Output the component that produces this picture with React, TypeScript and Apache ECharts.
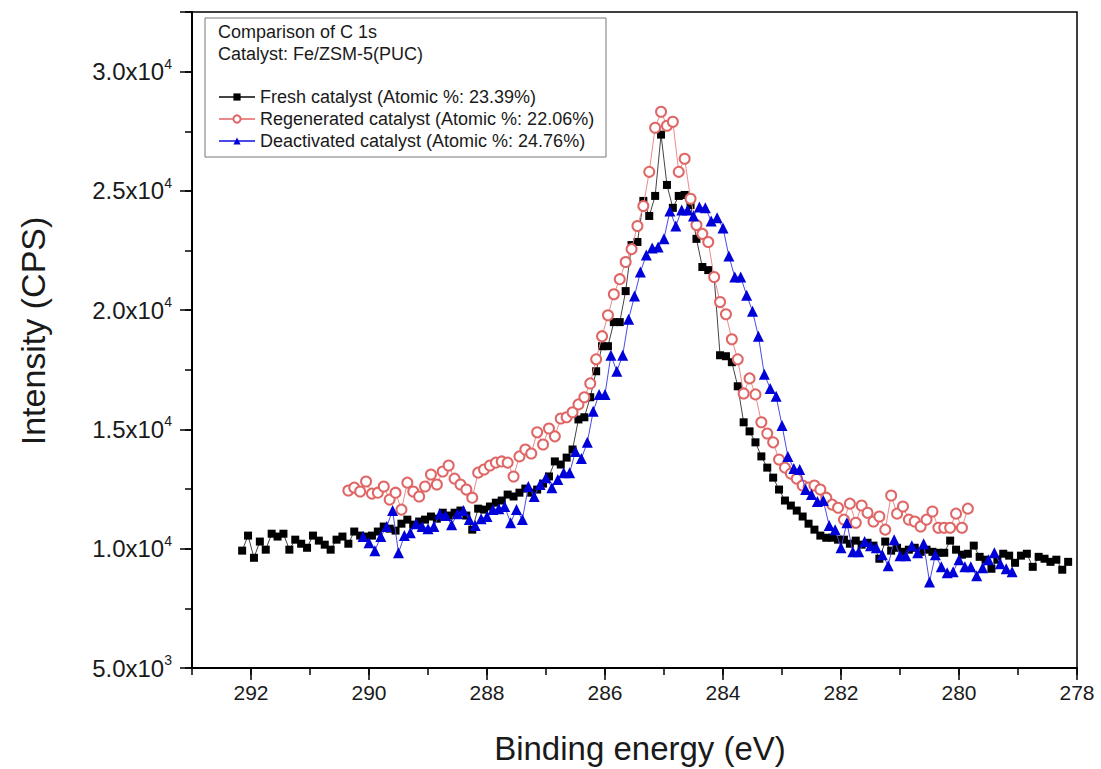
import React, { useEffect, useRef } from "react";
import * as echarts from "echarts";

// XPS C 1s spectra, binding energy sampled every 0.1 eV (high -> low)
const energyStep = 0.1;
const freshStart = 292.15;
const regenStart = 290.35;
const deactStart = 290.1;

const freshCps = [
  9920, 10550, 9620, 10300, 9960, 10630, 10510, 10630, 9960, 10380,
  10210, 10040, 10550, 10340, 10170, 9960, 10380, 10510, 10210, 10720,
  10550, 10510, 10550, 10720, 10930, 10840, 10760, 11050, 11220, 11010,
  11140, 11220, 11350, 11260, 11510, 11390, 11510, 11600, 11390, 10800,
  11680, 11640, 11770, 11930, 12020, 12270, 12190, 12350, 12520, 12350,
  12480, 12730, 13030, 13660, 13530, 13820, 14160, 15420, 15510, 16350,
  17440, 18490, 18490, 19500, 19500, 20800, 22730, 22860, 24580, 23950,
  24790, 27360, 25250, 24290, 24790, 24830, 24410, 22990, 21810, 21680,
  21390, 18110, 18070, 17820, 16810, 15300, 14920, 14460, 13870, 13400,
  12980, 12480, 12020, 11810, 11600, 11350, 11050, 10800, 10550, 10460,
  10460, 10380, 10380, 10210, 10340, 10170, 10250, 10130, 9580, 10300,
  9920, 10040, 9870, 9960, 10040, 9870, 9960, 9870, 9830, 9830,
  10340, 9960, 9750, 9790, 10130, 9660, 9540, 9160, 9540, 9790,
  9710, 9410, 9710, 9790, 9240, 9660, 9580, 9450, 9540, 9120,
  9450,
];

const regenCps = [
  12440, 12560, 12400, 12820, 12310, 12350, 12610, 12060, 12350, 11640,
  12770, 12400, 12190, 12610, 13110, 12690, 13240, 13490, 12940, 12690,
  12480, 12140, 13190, 13320, 13490, 13610, 13660, 13610, 13030, 13870,
  14160, 13990, 14880, 14370, 15040, 14710, 15460, 15510, 15720, 16050,
  16350, 16930, 17940, 18910, 19790, 20670, 21300, 22020, 22560, 23530,
  24370, 25800, 27650, 28320, 27730, 27900, 25800, 26350, 24670, 23570,
  23200, 22860, 21390, 20340, 19830, 18780, 17940, 16510, 17140, 16470,
  15300, 14830, 14460, 13740, 13400, 13150, 12940, 12650, 12560, 12650,
  12480, 12140, 11850, 11720, 11220, 11890, 11090, 11810, 11510, 11140,
  11350, 10800, 12230, 11470, 11770, 11220, 11140, 10930, 11220, 11560,
  10880, 10880, 10880, 11470, 10880, 11680,
];

const deactCps = [
  10510, 10250, 9920, 10510, 10930, 11600, 9830, 10550, 10670, 11050,
  10930, 10840, 10930, 11470, 11390, 11010, 11470, 11600, 11220, 10970,
  11260, 11350, 11640, 11680, 11770, 11090, 11640, 11220, 12610, 12190,
  12690, 12980, 12560, 12900, 13190, 13190, 14080, 13780, 14460, 15760,
  16470, 16470, 18110, 17440, 18110, 19620, 20590, 21600, 22310, 22610,
  22650, 22990, 24160, 23530, 24200, 24200, 23950, 24330, 24290, 23740,
  23870, 23450, 22270, 21390, 21390, 20630, 19960, 18910, 17310, 16720,
  16390, 15170, 13870, 13360, 13320, 12480, 12270, 11980, 12020, 10970,
  10800, 10040, 11090, 9870, 9870, 10300, 10130, 10040, 9750, 9290,
  10380, 9710, 9710, 10130, 9830, 10210, 8610, 9750, 9240, 8990,
  9030, 9540, 9240, 9240, 8870, 9200, 9540, 9830, 9370, 9160,
  9030,
];

const seriesNames = [
  "Fresh catalyst (Atomic %: 23.39%)",
  "Regenerated catalyst (Atomic %: 22.06%)",
  "Deactivated catalyst (Atomic %: 24.76%)",
];
const noteLines = ["Comparison of C 1s", "Catalyst: Fe/ZSM-5(PUC)"];
const xTitle = "Binding energy (eV)";
const yTitle = "Intensity (CPS)";

const xRange = [278, 293];
const yRange = [5000, 32500];

const FONT = "'Liberation Sans', Arial, sans-serif";
const INK = "#1a1a1a";

function toPairs(start: number, values: number[]) {
  return values.map((v, i) => [+(start - energyStep * i).toFixed(2), v]);
}

function sciLabel(v: number) {
  if (v >= yRange[1]) return "";
  const exp = Math.floor(Math.log10(v));
  const mant = (v / Math.pow(10, exp)).toFixed(1);
  return `{m|${mant}x10}{e|${exp}}`;
}

export default function App() {
  const ref = useRef<HTMLDivElement>(null);

  useEffect(() => {
    if (!ref.current) return;
    const chart = echarts.init(ref.current, null, { renderer: "svg" });

    const axisBase = {
      type: "value" as const,
      splitLine: { show: false },
    };

    chart.setOption({
      animation: false,
      backgroundColor: "#fff",
      grid: {
        left: 192,
        right: 24,
        top: 12,
        bottom: 101,
        show: true,
        borderColor: "#000",
        borderWidth: 1.5,
        backgroundColor: "transparent",
      },
      legend: {
        orient: "vertical",
        left: 213,
        top: 82,
        z: 10,
        itemWidth: 36,
        itemHeight: 9,
        itemGap: 2,
        selectedMode: false,
        textStyle: { fontFamily: FONT, fontSize: 18, color: INK, lineHeight: 20 },
        data: seriesNames,
      },
      xAxis: [
        {
          ...axisBase,
          min: xRange[0],
          max: xRange[1],
          interval: 2,
          inverse: true,
          position: "bottom",
          axisLine: { show: true, onZero: false, lineStyle: { color: "#000", width: 2 } },
          axisTick: { show: true, inside: false, length: 12, lineStyle: { color: "#000", width: 1.5 } },
          axisLabel: {
            show: true,
            margin: 14,
            fontFamily: FONT,
            fontSize: 21,
            color: INK,
            showMaxLabel: false,
          },
        },
        {
          ...axisBase,
          min: xRange[0],
          max: xRange[1],
          interval: 1,
          inverse: true,
          position: "bottom",
          axisLine: { show: false, onZero: false },
          axisTick: { show: true, inside: false, length: 7, lineStyle: { color: "#000", width: 1.5 } },
          axisLabel: { show: false },
        },
      ],
      yAxis: [
        {
          ...axisBase,
          min: yRange[0],
          max: yRange[1],
          interval: 5000,
          position: "left",
          axisLine: { show: true, onZero: false, lineStyle: { color: "#000", width: 2 } },
          axisTick: { show: true, inside: false, length: 12, lineStyle: { color: "#000", width: 1.5 } },
          axisLabel: {
            show: true,
            margin: 20,
            formatter: sciLabel,
            rich: {
              m: { fontFamily: FONT, fontSize: 24, color: INK, lineHeight: 30 },
              e: { fontFamily: FONT, fontSize: 14, color: INK, verticalAlign: "top", lineHeight: 14 },
            },
          },
        },
        {
          ...axisBase,
          min: yRange[0],
          max: yRange[1],
          interval: 2500,
          position: "left",
          axisLine: { show: false, onZero: false },
          axisTick: { show: true, inside: false, length: 7, lineStyle: { color: "#000", width: 1.5 } },
          axisLabel: { show: false },
        },
      ],
      graphic: [
        {
          type: "rect",
          shape: { x: 205, y: 18, width: 401, height: 139 },
          style: { fill: "#fff", stroke: "#777", lineWidth: 1 },
          z: 1,
        },
        {
          type: "text",
          x: 218,
          y: 23,
          style: { text: noteLines[0], fontFamily: FONT, fontSize: 18, fill: INK },
          z: 6,
        },
        {
          type: "text",
          x: 218,
          y: 45,
          style: { text: noteLines[1], fontFamily: FONT, fontSize: 18, fill: INK },
          z: 6,
        },
        {
          type: "text",
          x: 640,
          y: 748,
          style: {
            text: xTitle,
            fontFamily: FONT,
            fontSize: 33,
            fill: INK,
            align: "center",
            verticalAlign: "middle",
          },
        },
        {
          type: "text",
          x: 33,
          y: 331,
          rotation: Math.PI / 2,
          style: {
            text: yTitle,
            fontFamily: FONT,
            fontSize: 34,
            fill: INK,
            align: "center",
            verticalAlign: "middle",
          },
        },
      ],
      series: [
        {
          name: seriesNames[0],
          type: "line",
          data: toPairs(freshStart, freshCps),
          symbol: "rect",
          symbolSize: 8,
          itemStyle: { color: "#000" },
          lineStyle: { color: "#444", width: 1 },
          z: 2,
        },
        {
          name: seriesNames[1],
          type: "line",
          data: toPairs(regenStart, regenCps),
          symbol: "emptyCircle",
          symbolSize: 10,
          itemStyle: { color: "#e06666", borderWidth: 1 },
          lineStyle: { color: "#ea8a8a", width: 1 },
          z: 3,
        },
        {
          name: seriesNames[2],
          type: "line",
          data: toPairs(deactStart, deactCps),
          symbol: "triangle",
          symbolSize: 11,
          itemStyle: { color: "#0000d8" },
          lineStyle: { color: "#4a4ae8", width: 1 },
          z: 4,
        },
      ],
    });

    return () => chart.dispose();
  }, []);

  return (
    <div
      ref={ref}
      style={{ position: "absolute", left: 0, top: 0, width: 1101, height: 769, background: "#fff" }}
    />
  );
}
